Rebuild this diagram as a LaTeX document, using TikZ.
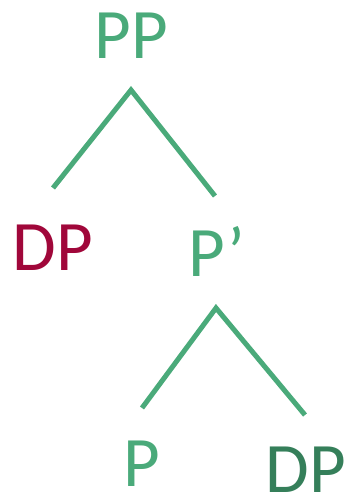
\documentclass[tikz,border=0pt]{standalone}
\usepackage{fontspec}
\setmainfont{Carlito}
\definecolor{lgreen}{HTML}{4AAA7A}
\definecolor{dgreen}{HTML}{357F5A}
\definecolor{dred}{HTML}{A0073A}
\begin{document}
\begin{tikzpicture}[x=1pt,y=-1pt,
  lab/.style={inner sep=0pt,anchor=base,text depth=0pt,font=\fontsize{71}{80}\selectfont},
  branch/.style={draw=lgreen,line width=5pt}]
\useasboundingbox (0,0) rectangle (347,498);
\node[lab,text=lgreen] (pp) at (131,58) {PP};
\node[lab,text=dred] (dp1) at (53,270) {DP};
\node[lab,text=lgreen] (pbar) at (217,276) {P’};
\node[lab,text=lgreen] (p) at (142,486) {P};
\node[lab,text=dgreen] (dp2) at (306,492) {DP};
\coordinate (a1) at (131,90);
\coordinate (l1) at (53,188);
\coordinate (r1) at (215,196);
\coordinate (a2) at (216,308);
\coordinate (l2) at (142,408);
\coordinate (r2) at (305,415);
\draw[branch] (l1) -- (a1) -- (r1);
\draw[branch] (l2) -- (a2) -- (r2);
\end{tikzpicture}
\end{document}
